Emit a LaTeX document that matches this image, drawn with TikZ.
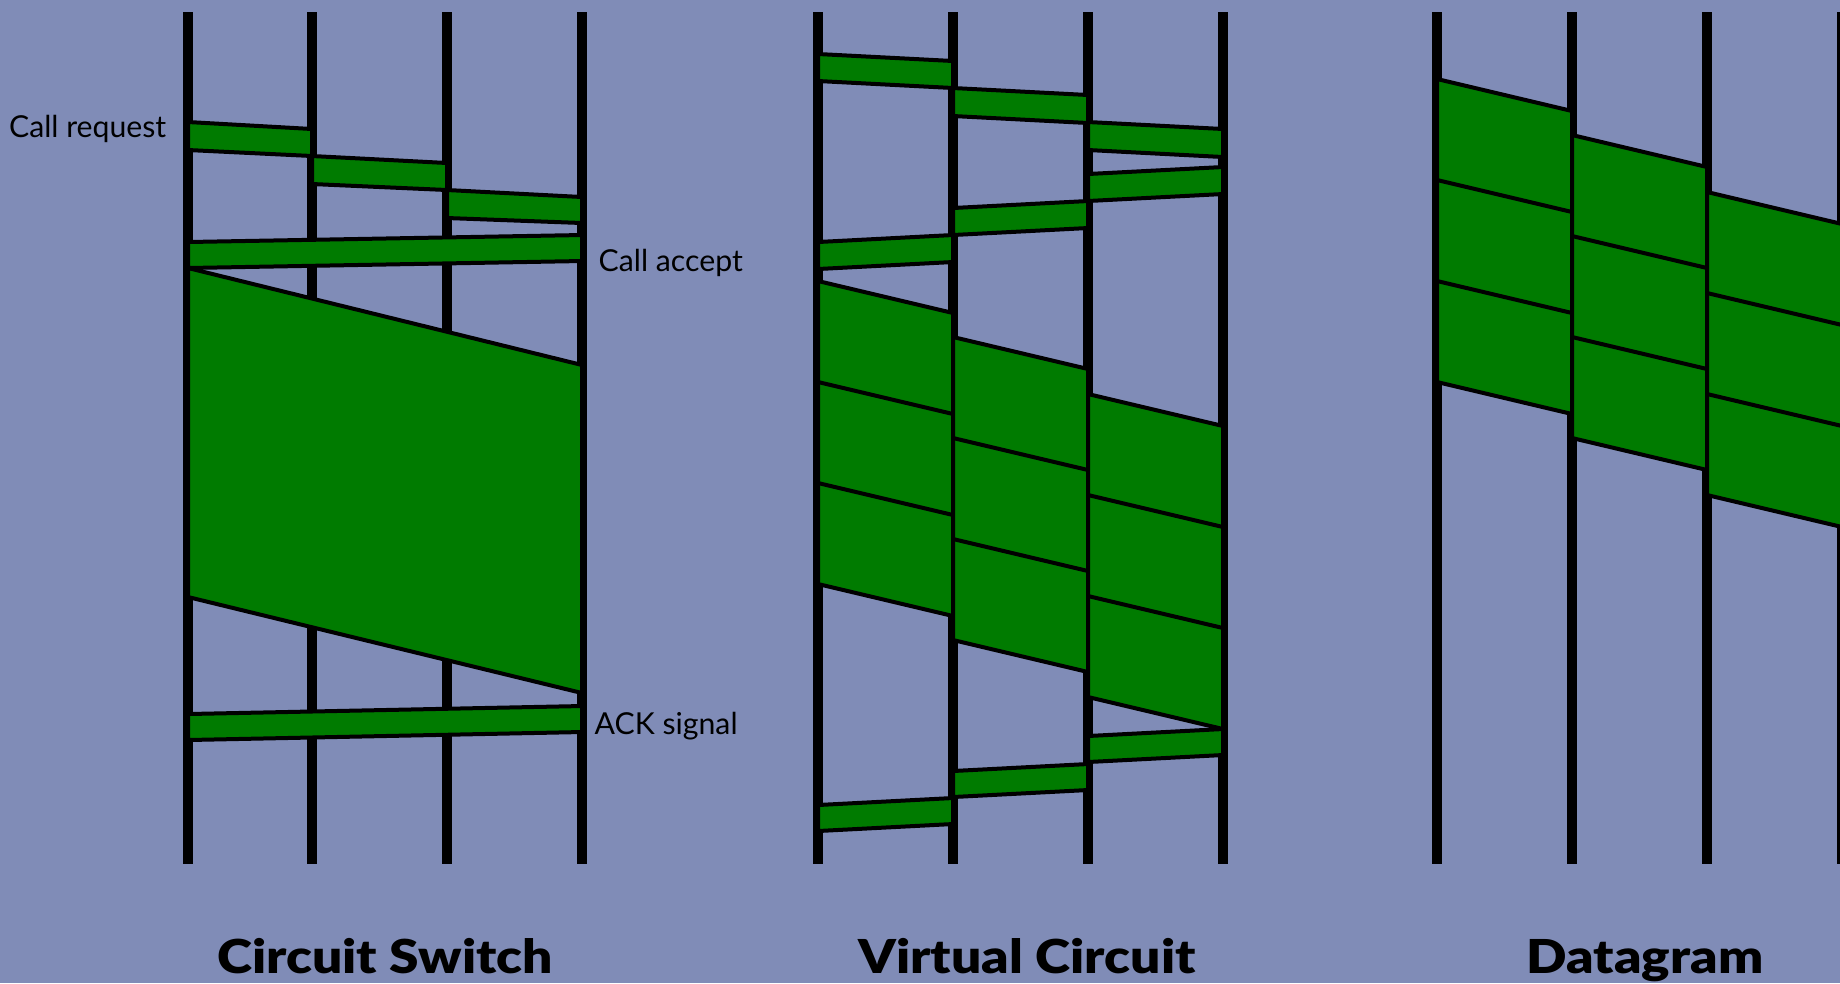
\documentclass[tikz,border=0pt]{standalone}
\usepackage{fontspec}
\setmainfont{Lato}
\newfontfamily\heavyfont{Lato Black}[FakeStretch=1.14]
\definecolor{bgblue}{RGB}{128,140,183}
\definecolor{pktgreen}{RGB}{0,123,0}

\begin{document}
\begin{tikzpicture}[x=1cm, y=-1cm,
  wire/.style={line width=1mm},
  pkt/.style={fill=pktgreen, draw=black, line width=0.4mm},
  sep/.style={line width=0.4mm},
  lbl/.style={inner sep=0pt, font=\fontsize{8.6}{10}\selectfont},
  title/.style={inner sep=0pt, font=\heavyfont\fontsize{13.3}{15}\selectfont}]

  % Background and page size
  \fill[bgblue] (0,0) rectangle (18.40,9.83);
  \useasboundingbox (0,0) rectangle (18.40,9.83);

  % ---------------- Circuit switch ----------------
  % Time lines of the four nodes
  \draw[wire] (1.88,0.12) -- (1.88,8.64);
  \draw[wire] (3.12,0.12) -- (3.12,8.64);
  \draw[wire] (4.47,0.12) -- (4.47,8.64);
  \draw[wire] (5.82,0.12) -- (5.82,8.64);

  % Call request, hop by hop
  \draw[pkt] (1.88,1.22) -- (3.12,1.29) -- (3.12,1.56) -- (1.88,1.50) -- cycle;
  \draw[pkt] (3.12,1.56) -- (4.47,1.63) -- (4.47,1.90) -- (3.12,1.84) -- cycle;
  \draw[pkt] (4.47,1.90) -- (5.82,1.97) -- (5.82,2.23) -- (4.47,2.18) -- cycle;

  % Call accept goes straight back
  \draw[pkt] (1.88,2.42) -- (5.82,2.35) -- (5.82,2.61) -- (1.88,2.68) -- cycle;

  % Data over the circuit
  \draw[pkt] (1.88,2.68) -- (5.82,3.65) -- (5.82,6.93) -- (1.88,5.97) -- cycle;

  % ACK back
  \draw[pkt] (1.88,7.14) -- (5.82,7.06) -- (5.82,7.32) -- (1.88,7.40) -- cycle;

  \node[lbl, anchor=base east] (callreq) at (1.67,1.37) {Call request};
  \node[lbl, anchor=base west] (callacc) at (5.98,2.71) {Call accept};
  \node[lbl, anchor=base west] (acksig) at (5.94,7.34) {ACK signal};

  % ---------------- Virtual circuit ----------------
  \draw[wire] (8.18,0.12) -- (8.18,8.64);
  \draw[wire] (9.53,0.12) -- (9.53,8.64);
  \draw[wire] (10.88,0.12) -- (10.88,8.64);
  \draw[wire] (12.23,0.12) -- (12.23,8.64);

  % Setup going out
  \draw[pkt] (8.18,0.54) -- (9.53,0.61) -- (9.53,0.88) -- (8.18,0.81) -- cycle;
  \draw[pkt] (9.53,0.88) -- (10.88,0.95) -- (10.88,1.23) -- (9.53,1.16) -- cycle;
  \draw[pkt] (10.88,1.22) -- (12.23,1.29) -- (12.23,1.57) -- (10.88,1.50) -- cycle;

  % Setup coming back
  \draw[pkt] (12.23,1.67) -- (10.88,1.74) -- (10.88,2.01) -- (12.23,1.94) -- cycle;
  \draw[pkt] (10.88,2.01) -- (9.53,2.08) -- (9.53,2.35) -- (10.88,2.28) -- cycle;
  \draw[pkt] (9.53,2.35) -- (8.18,2.42) -- (8.18,2.69) -- (9.53,2.62) -- cycle;

  % Three packets, store and forward on each hop
  \draw[pkt] (8.18,2.81) -- (9.53,3.13) -- (9.53,6.16) -- (8.18,5.84) -- cycle;
  \draw[sep] (8.18,3.82) -- (9.53,4.14);
  \draw[sep] (8.18,4.83) -- (9.53,5.15);

  \draw[pkt] (9.53,3.37) -- (10.88,3.69) -- (10.88,6.72) -- (9.53,6.40) -- cycle;
  \draw[sep] (9.53,4.38) -- (10.88,4.70);
  \draw[sep] (9.53,5.39) -- (10.88,5.71);

  \draw[pkt] (10.88,3.94) -- (12.23,4.26) -- (12.23,7.29) -- (10.88,6.97) -- cycle;
  \draw[sep] (10.88,4.95) -- (12.23,5.27);
  \draw[sep] (10.88,5.96) -- (12.23,6.28);

  % Teardown back to the source
  \draw[pkt] (12.23,7.29) -- (10.88,7.36) -- (10.88,7.62) -- (12.23,7.55) -- cycle;
  \draw[pkt] (10.88,7.64) -- (9.53,7.71) -- (9.53,7.97) -- (10.88,7.90) -- cycle;
  \draw[pkt] (9.53,7.98) -- (8.18,8.05) -- (8.18,8.31) -- (9.53,8.24) -- cycle;

  % ---------------- Datagram ----------------
  \draw[wire] (14.37,0.12) -- (14.37,8.64);
  \draw[wire] (15.72,0.12) -- (15.72,8.64);
  \draw[wire] (17.07,0.12) -- (17.07,8.64);
  \draw[wire] (18.42,0.12) -- (18.42,8.64);

  % Packets sent right away, no setup
  \draw[pkt] (14.37,0.79) -- (15.72,1.11) -- (15.72,4.14) -- (14.37,3.82) -- cycle;
  \draw[sep] (14.37,1.80) -- (15.72,2.12);
  \draw[sep] (14.37,2.81) -- (15.72,3.13);

  \draw[pkt] (15.72,1.35) -- (17.07,1.67) -- (17.07,4.70) -- (15.72,4.38) -- cycle;
  \draw[sep] (15.72,2.36) -- (17.07,2.68);
  \draw[sep] (15.72,3.37) -- (17.07,3.69);

  \draw[pkt] (17.07,1.92) -- (18.42,2.24) -- (18.42,5.27) -- (17.07,4.95) -- cycle;
  \draw[sep] (17.07,2.93) -- (18.42,3.25);
  \draw[sep] (17.07,3.94) -- (18.42,4.26);

  % Titles
  \node[title, anchor=base] (cstitle) at (3.85,9.73) {Circuit Switch};
  \node[title, anchor=base] (vctitle) at (10.27,9.73) {Virtual Circuit};
  \node[title, anchor=base] (dgtitle) at (16.45,9.73) {Datagram};
\end{tikzpicture}
\end{document}
